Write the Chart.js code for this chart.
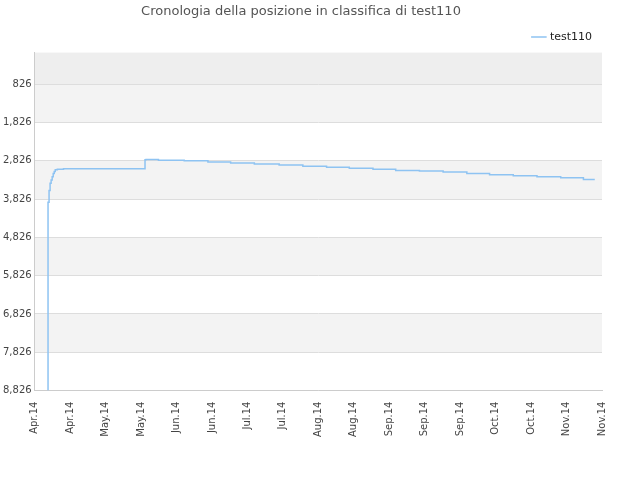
<!DOCTYPE html>
<html><head><meta charset="utf-8">
<script src="https://cdn.jsdelivr.net/npm/chart.js@4"></script>
<style>body{margin:0;background:#fff}#wrap{width:640px;height:480px}</style>
</head><body><div id="wrap"><canvas id="c"></canvas></div>
<script>
const xTickLabels = ['Apr.14', 'Apr.14', 'May.14', 'May.14', 'Jun.14', 'Jun.14', 'Jul.14', 'Jul.14', 'Aug.14', 'Aug.14', 'Sep.14', 'Sep.14', 'Sep.14', 'Oct.14', 'Oct.14', 'Nov.14', 'Nov.14']
const xPos = [0.378, 0.378, 0.407, 0.436, 0.465, 0.495, 0.524, 0.553, 0.582, 0.64, 0.815, 3.113, 3.142, 3.491, 4.218, 4.887, 5.527, 6.196, 6.895, 7.564, 8.233, 8.873, 9.542, 10.182, 10.851, 11.52, 12.189, 12.829, 13.498, 14.167, 14.836, 15.476, 15.796]
const rank = [8826, 3910, 3604, 3410, 3326, 3243, 3160, 3104, 3062, 3048, 3034, 2798, 2790, 2812, 2826, 2854, 2881, 2909, 2937, 2965, 2993, 3020, 3048, 3076, 3090, 3118, 3160, 3187, 3215, 3243, 3270, 3312, 3312]
const yTicks = [826, 1826, 2826, 3826, 4826, 5826, 6826, 7826, 8826]

const bands = {
    id: 'bands',
    beforeDraw(chart) {
        const { ctx, chartArea: a, scales: { y } } = chart
        ctx.save()
        const edges = [0].concat(yTicks)
        for (let i = 0; i < edges.length - 1; i++) {
            const y1 = y.getPixelForValue(edges[i])
            const y2 = y.getPixelForValue(edges[i + 1])
            ctx.fillStyle = i === 0 ? '#eeeeee' : (i % 2 === 1 ? '#f3f3f3' : '#ffffff')
            ctx.fillRect(a.left, y1, a.right - a.left, y2 - y1)
        }
        ctx.restore()
    }
}

new Chart(document.getElementById('c'), {
    type: 'line',
    data: {
        datasets: [{
            label: 'test110',
            data: xPos.map((x, i) => ({ x: x, y: rank[i] })),
            stepped: true,
            borderColor: '#8ec3f2',
            backgroundColor: '#8ec3f2',
            borderWidth: 1.5,
            pointRadius: 0
        }]
    },
    options: {
        responsive: true,
        maintainAspectRatio: false,
        animation: false,
        layout: { padding: { left: 0, right: 38, top: 0, bottom: 40 } },
        plugins: {
            title: {
                display: true,
                text: 'Cronologia della posizione in classifica di test110',
                color: '#555',
                font: { family: 'DejaVu Sans', size: 13, weight: 'normal' },
                padding: { top: 4, bottom: 2 }
            },
            legend: {
                position: 'top',
                align: 'end',
                labels: {
                    usePointStyle: true,
                    pointStyle: 'line',
                    boxWidth: 12,
                    color: '#222',
                    font: { family: 'DejaVu Sans', size: 11 }
                }
            }
        },
        scales: {
            x: {
                type: 'linear',
                min: 0,
                max: 16,
                afterBuildTicks: s => { s.ticks = xTickLabels.map((_, i) => ({ value: i })) },
                ticks: {
                    callback: v => xTickLabels[v],
                    minRotation: 90,
                    maxRotation: 90,
                    autoSkip: false,
                    color: '#444',
                    font: { family: 'DejaVu Sans', size: 10 }
                },
                grid: { display: false },
                border: { color: '#ccc' }
            },
            y: {
                reverse: true,
                min: 0,
                max: 8826,
                afterBuildTicks: s => { s.ticks = yTicks.map(v => ({ value: v })) },
                ticks: {
                    color: '#444',
                    font: { family: 'DejaVu Sans', size: 10 }
                },
                grid: { color: '#dddddd', drawTicks: false },
                border: { color: '#ccc' }
            }
        }
    },
    plugins: [bands]
})
</script>
</body></html>
